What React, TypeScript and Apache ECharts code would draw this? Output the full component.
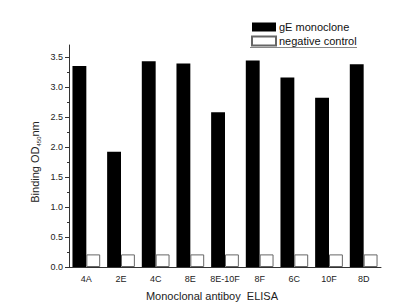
import React, { useEffect, useRef } from "react";
import * as echarts from "echarts";

const categories = ["4A", "2E", "4C", "8E", "8E-10F", "8F", "6C", "10F", "8D"];
const gEMonoclone = [3.35, 1.92, 3.43, 3.39, 2.58, 3.44, 3.16, 2.82, 3.38];
const negativeControl = [0.21, 0.21, 0.21, 0.21, 0.21, 0.21, 0.21, 0.21, 0.21];
const yMajorTicks = [0, 0.5, 1.0, 1.5, 2.0, 2.5, 3.0, 3.5];
const yMinorTicks = [0.25, 0.75, 1.25, 1.75, 2.25, 2.75, 3.25];

const FONT = "Liberation Sans, Arial, sans-serif";

export default function App() {
  const ref = useRef<HTMLDivElement>(null);
  useEffect(() => {
    if (!ref.current) return;
    const chart = echarts.init(ref.current, null, { renderer: "svg" });
    chart.setOption({
      animation: false,
      backgroundColor: "#fff",
      textStyle: { fontFamily: FONT },
      grid: { left: 69, right: 20, top: 45, bottom: 41, containLabel: false },
      legend: {
        orient: "vertical",
        left: 251,
        top: 21,
        padding: 0,
        icon: "rect",
        itemWidth: 24,
        itemHeight: 9,
        itemGap: 2,
        selectedMode: false,
        textStyle: { fontSize: 11, lineHeight: 12, color: "#111", fontFamily: FONT, padding: [0, 0, 0, -2] },
        data: ["gE monoclone", "negative control"],
      },
      xAxis: [
        {
          type: "category",
          data: categories,
          axisLine: { lineStyle: { color: "#333", width: 1 } },
          axisTick: { alignWithLabel: true, length: 3, lineStyle: { color: "#333" } },
          axisLabel: { interval: 0, fontSize: 9, color: "#222", margin: 7, fontFamily: FONT },
        },
        {
          type: "category",
          data: categories,
          position: "bottom",
          axisLine: { show: false },
          axisTick: { interval: 0, length: 3, lineStyle: { color: "#333" } },
          axisLabel: { show: false },
        },
      ],
      yAxis: [
        {
          type: "value",
          min: 0,
          max: 3.7,
          interval: 0.5,
          splitLine: { show: false },
          axisLine: { show: true, lineStyle: { color: "#333", width: 1 } },
          axisTick: { show: true, length: 4, customValues: yMajorTicks, lineStyle: { color: "#333" } },
          axisLabel: {
            fontSize: 9,
            color: "#222",
            margin: 6,
            fontFamily: FONT,
            customValues: yMajorTicks,
            formatter: (v: number) => v.toFixed(1),
          },
        },
        {
          type: "value",
          min: 0,
          max: 3.7,
          position: "left",
          splitLine: { show: false },
          axisLine: { show: false },
          axisTick: { show: true, length: 2, customValues: yMinorTicks, lineStyle: { color: "#333" } },
          axisLabel: { show: false, customValues: yMinorTicks },
        },
      ],
      series: [
        {
          name: "gE monoclone",
          type: "bar",
          data: gEMonoclone,
          barGap: "0%",
          barCategoryGap: "20%",
          itemStyle: { color: "#000" },
        },
        {
          name: "negative control",
          type: "bar",
          data: negativeControl,
          barGap: "0%",
          barCategoryGap: "20%",
          itemStyle: { color: "#fff", borderColor: "#666", borderWidth: 1 },
        },
      ],
      graphic: [
        {
          type: "line",
          shape: { x1: 250, y1: 47.5, x2: 357, y2: 47.5 },
          style: { stroke: "#888", lineWidth: 1 },
        },
        {
          type: "text",
          x: 35,
          y: 162,
          rotation: Math.PI / 2,
          style: {
            text: "{a|Binding OD}{s|450}{a|nm}",
            align: "center",
            verticalAlign: "middle",
            rich: {
              a: { fontSize: 11, fontFamily: FONT, fill: "#222", lineHeight: 14, verticalAlign: "middle" },
              s: { fontSize: 6, fontFamily: FONT, fill: "#222", lineHeight: 14, verticalAlign: "bottom", padding: [4, 0, 0, 0] },
            },
          },
        },
        {
          type: "text",
          x: 212,
          y: 296,
          style: {
            text: "Monoclonal antiboy  ELISA",
            align: "center",
            verticalAlign: "middle",
            fontSize: 11,
            fontFamily: FONT,
            fill: "#222",
          },
        },
      ],
    });
    return () => chart.dispose();
  }, []);
  return <div ref={ref} style={{ width: 401, height: 308, position: "absolute", left: 0, top: 0 }} />;
}
